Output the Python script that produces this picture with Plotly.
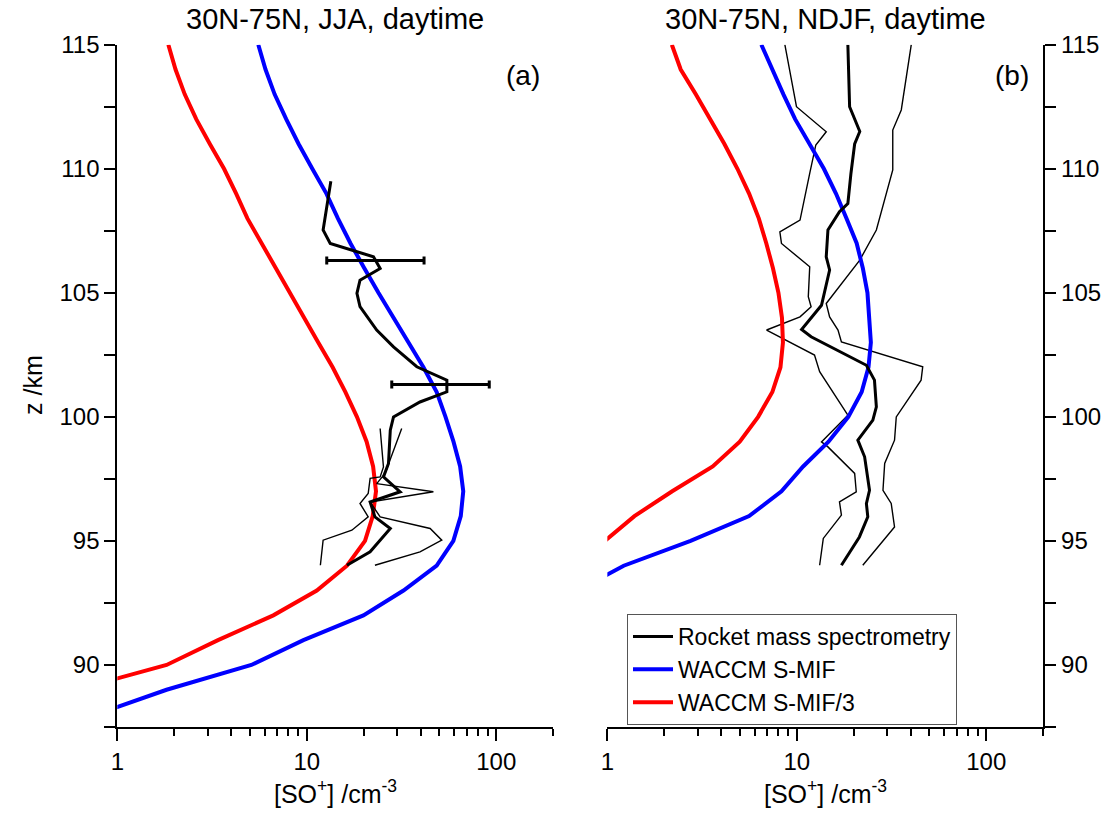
import math
import plotly.graph_objects as go

# ---------------- data ----------------
# WACCM model profiles on a 1 km altitude grid
z_model_jja = list(range(88, 116))
smif_jja = [0.77, 1.82, 5.1, 9.6, 19.9, 32.4, 48.5, 59.4, 65, 67,
            64.5, 59.5, 54, 48.5, 41.3, 34.3, 28.6, 23.9, 20.1, 17.0,
            14.6, 12.7, 10.7, 9.06, 7.79, 6.77, 6.06, 5.55]
smif3_jja = [0.2, 0.61, 1.82, 3.4, 6.66, 11.3, 16.3, 20.3, 22.3, 23.2,
             22.4, 20.7, 18.4, 16.0, 13.7, 11.5, 9.7, 8.17, 6.85, 5.75,
             4.86, 4.24, 3.66, 3.08, 2.61, 2.27, 2.03, 1.86]

z_model_ndjf = list(range(93, 116))
smif_ndjf = [0.7, 1.22, 2.75, 5.6, 8.3, 10.8, 14.7, 18.7, 22.0, 23.9,
             24.6, 24.2, 23.6, 22.3, 20.7, 18.3, 16.1, 13.9, 11.6, 9.8,
             8.5, 7.4, 6.5]
smif3_ndjf = [0.3, 0.55, 0.97, 1.39, 2.2, 3.6, 5.0, 6.25, 7.43, 8.2,
              8.45, 8.35, 8.0, 7.48, 6.9, 6.3, 5.6, 4.86, 4.15, 3.5,
              2.93, 2.44, 2.19]

# Rocket mass spectrometry, JJA: mean profile
rocket_jja_z = [109.5, 107.53, 106.99, 106.45, 105.98, 105.51, 104.98, 104.44,
                103.5, 102.82, 102.02, 101.48, 101.01, 100.6, 100.0, 99.46,
                98.12, 97.58, 96.98, 96.57, 95.97, 95.5, 94.56, 94.02]
rocket_jja = [13.4, 12.2, 13.3, 22.5, 24.4, 19.1, 18.4, 19.1,
              23.4, 28.7, 38.1, 54.9, 54.9, 39.6, 28.7, 27.6,
              27.0, 25.4, 31.1, 21.6, 22.9, 27.6, 21.6, 16.3]
# individual JJA flights (thin)
flight1_jja_z = [99.53, 97.98, 97.58, 97.52, 96.91, 96.51, 95.97, 95.43, 95.03, 94.02]
flight1_jja = [24.4, 25.4, 24.4, 21.6, 21.1, 19.1, 21.1, 17.3, 12.2, 11.8]
flight2_jja_z = [99.53, 97.72, 97.31, 96.98, 96.57, 95.97, 95.5, 95.03, 94.56, 94.02]
flight2_jja = [31.7, 25.9, 23.4, 46.6, 21.6, 24.4, 44.8, 51.6, 39.6, 22.9]
# JJA error bars
err_z = [106.3, 101.3]
err_center = [23.0, 50.8]
err_low = [12.75, 28.1]
err_high = [41.6, 91.9]

# Rocket mass spectrometry, NDJF: mean and envelope
rocket_ndjf_z = [115, 114, 112.5, 111.5, 111.0, 109.8, 108.6, 108.27, 107.53,
                 106.45, 105.92, 104.5, 103.52, 103.23, 102.08, 101.48, 100.4,
                 99.87, 99.06, 98.39, 97.04, 96.5, 95.97, 95.16, 94.02]
rocket_ndjf = [18.6, 18.8, 19.0, 21.5, 20.2, 19.3, 18.6, 16.8, 14.6,
               14.3, 14.9, 13.5, 10.6, 11.9, 23.3, 25.7, 26.3,
               25.2, 21.0, 22.8, 24.2, 23.3, 23.7, 21.4, 17.2]
low_ndjf_z = [115, 112.5, 111.49, 110.96, 109.81, 107.93, 107.46, 106.99, 106.05,
              104.84, 104.44, 104.03, 103.5, 103.23, 102.49, 101.82, 100.07,
              98.99, 98.79, 97.72, 96.98, 96.57, 96.04, 95.1, 94.02]
low_ndjf = [8.65, 9.96, 14.3, 12.6, 11.7, 10.4, 8.14, 8.3, 11.7,
            11.5, 11.9, 10.4, 6.93, 8.14, 12.4, 13.2, 18.6,
            13.5, 14.6, 20.2, 20.6, 16.8, 17.2, 13.8, 13.2]
high_ndjf_z = [115, 112.37, 111.56, 109.95, 107.53, 106.32, 104.57, 104.03, 103.5,
               103.02, 102.02, 101.48, 100.0, 99.06, 98.12, 97.04, 96.51, 95.56, 94.02]
high_ndjf = [40.2, 35.6, 32.1, 32.1, 26.3, 21.5, 14.3, 14.9, 16.5,
             17.2, 46.2, 45.3, 33.5, 32.8, 29.1, 28.5, 31.5, 32.8, 22.3]

x_ticks = [1, 10, 100]
y_ticks = [90, 95, 100, 105, 110, 115]
panel_titles = ["30N-75N, JJA, daytime", "30N-75N, NDJF, daytime"]
panel_tags = ["(a)", "(b)"]

# ---------------- styling ----------------
FONT = "Liberation Sans, Arial, sans-serif"
BLUE = "#0000ff"
RED = "#ff0000"
BLACK = "#000000"
W, H = 1115, 813
X_RANGE = [0, math.log10(200) + 1e-4]
Y_RANGE = [87.5, 115]
DOM_A = [0.1052, 0.4962]
DOM_B = [0.5447, 0.9357]
DOM_Y = [0.1058, 0.945]

fig = go.Figure()


def add_line(x, y, color, width, xa, ya):
    fig.add_trace(go.Scatter(
        x=x, y=y, mode="lines", showlegend=False,
        line=dict(color=color, width=width), xaxis=xa, yaxis=ya,
        hoverinfo="skip"))


# panel (a)
add_line(smif3_jja, z_model_jja, RED, 4, "x", "y")
add_line(smif_jja, z_model_jja, BLUE, 4, "x", "y")
add_line(flight1_jja, flight1_jja_z, BLACK, 1.4, "x", "y")
add_line(flight2_jja, flight2_jja_z, BLACK, 1.4, "x", "y")
add_line(rocket_jja, rocket_jja_z, BLACK, 3, "x", "y")
fig.add_trace(go.Scatter(
    x=err_center, y=err_z, mode="markers", showlegend=False,
    marker=dict(size=2, color=BLACK), xaxis="x", yaxis="y", hoverinfo="skip",
    error_x=dict(type="data", symmetric=False,
                 array=[h - c for h, c in zip(err_high, err_center)],
                 arrayminus=[c - l for c, l in zip(err_center, err_low)],
                 color=BLACK, thickness=3, width=4)))

# panel (b)
add_line(low_ndjf, low_ndjf_z, BLACK, 1.4, "x2", "y2")
add_line(high_ndjf, high_ndjf_z, BLACK, 1.4, "x2", "y2")
add_line(smif3_ndjf, z_model_ndjf, RED, 4, "x2", "y2")
add_line(smif_ndjf, z_model_ndjf, BLUE, 4, "x2", "y2")
add_line(rocket_ndjf, rocket_ndjf_z, BLACK, 3, "x2", "y2")

# legend entries
for name, color, lw in [("Rocket mass spectrometry", BLACK, 3),
                        ("WACCM S-MIF", BLUE, 4),
                        ("WACCM S-MIF/3", RED, 4)]:
    fig.add_trace(go.Scatter(x=[None], y=[None], mode="lines", name=name,
                             line=dict(color=color, width=lw),
                             xaxis="x2", yaxis="y2", showlegend=True))

tick_font = dict(family=FONT, size=24, color=BLACK)


def xaxis_def(domain, side, ticks, labels, overlay=None, anchor="y"):
    d = dict(type="log", range=X_RANGE, domain=domain, side=side, anchor=anchor,
             tickvals=x_ticks, ticktext=[str(v) for v in x_ticks],
             ticks=ticks, ticklen=12, tickwidth=2, tickcolor=BLACK,
             showticklabels=labels, tickfont=tick_font, automargin=False,
             showline=True, linewidth=2, linecolor=BLACK,
             showgrid=False, zeroline=False, fixedrange=True,
             minor=dict(ticks=ticks, ticklen=7, tickwidth=2, tickcolor=BLACK,
                        dtick="D1", showgrid=False))
    if overlay:
        d["overlaying"] = overlay
    return d


def yaxis_def(side, ticks, labels, anchor, overlay=None):
    d = dict(range=Y_RANGE, domain=DOM_Y, side=side, anchor=anchor,
             tickvals=y_ticks, ticks=ticks, ticklen=11, tickwidth=2,
             tickcolor=BLACK, showticklabels=labels, tickfont=tick_font,
             automargin=False,
             showline=True, linewidth=2, linecolor=BLACK,
             showgrid=False, zeroline=False, fixedrange=True,
             minor=dict(ticks=ticks, ticklen=11, tickwidth=2, tickcolor=BLACK,
                        dtick=2.5, showgrid=False))
    if overlay:
        d["overlaying"] = overlay
    return d


fig.update_layout(
    width=W, height=H,
    margin=dict(l=0, r=0, t=0, b=0, autoexpand=False),
    paper_bgcolor="white", plot_bgcolor="white",
    font=dict(family=FONT, color=BLACK),
    xaxis=xaxis_def(DOM_A, "bottom", "outside", True, anchor="y"),
    xaxis3=xaxis_def(DOM_A, "top", "inside", False, overlay="x", anchor="y"),
    xaxis2=xaxis_def(DOM_B, "bottom", "outside", True, anchor="y2"),
    xaxis4=xaxis_def(DOM_B, "top", "inside", False, overlay="x2", anchor="y2"),
    yaxis=yaxis_def("left", "outside", True, "x"),
    yaxis3=yaxis_def("right", "inside", False, "x", overlay="y"),
    yaxis2=yaxis_def("right", "outside", True, "x2"),
    yaxis4=yaxis_def("left", "inside", False, "x2", overlay="y2"),
    legend=dict(x=627 / W, y=1 - 614 / H, xanchor="left", yanchor="top",
                bgcolor="white", bordercolor="#555555", borderwidth=1,
                font=dict(family=FONT, size=23, color=BLACK),
                tracegroupgap=0, itemwidth=40),
    showlegend=True,
)

annotations = []
for title, tag, cx, tx in zip(panel_titles, panel_tags,
                              [sum(DOM_A) / 2, sum(DOM_B) / 2],
                              [523 / W, 1012 / W]):
    annotations.append(dict(text=title, x=cx, y=1 - 19 / H, xref="paper", yref="paper",
                            showarrow=False, xanchor="center", yanchor="middle",
                            font=dict(family=FONT, size=29, color=BLACK)))
    annotations.append(dict(text=tag, x=tx, y=1 - 76 / H, xref="paper", yref="paper",
                            showarrow=False, xanchor="center", yanchor="middle",
                            font=dict(family=FONT, size=28, color=BLACK)))
    annotations.append(dict(text="[SO<sup>+</sup>] /cm<sup>-3</sup>", x=cx, y=1 - 792 / H,
                            xref="paper", yref="paper", showarrow=False,
                            xanchor="center", yanchor="middle",
                            font=dict(family=FONT, size=25, color=BLACK)))
annotations.append(dict(text="z /km", x=33 / W, y=1 - 385 / H, xref="paper", yref="paper",
                        showarrow=False, textangle=-90, xanchor="center", yanchor="middle",
                        font=dict(family=FONT, size=25, color=BLACK)))
fig.update_layout(annotations=annotations)

fig.write_html("out.html")
